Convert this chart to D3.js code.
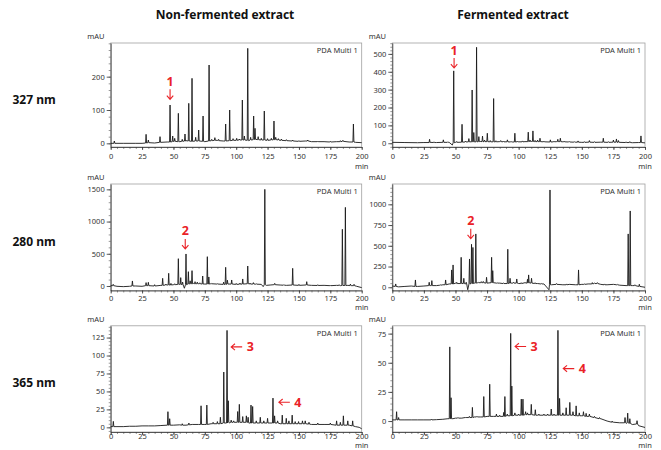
<!DOCTYPE html>
<html><head><meta charset="utf-8">
<script src="https://cdn.jsdelivr.net/npm/d3@7"></script>
<style>body{margin:0;background:#fff} svg text{font-family:"Noto Sans",sans-serif}</style>
</head><body><svg id="c" width="661" height="450"></svg>
<script>
// ---------- DATA ----------
const columnTitles = ["Non-fermented extract", "Fermented extract"];
const rowLabels = ["327 nm", "280 nm", "365 nm"];
const xTicks = [0, 25, 50, 75, 100, 125, 150, 175, 200];
const xDomain = [0, 200];
const detectorLabel = "PDA Multi 1";
const yUnit = "mAU";
const xUnit = "min";

const yTicks327A = [0, 100, 200];
const yTicks327B = [0, 100, 200, 300, 400, 500];
const yTicks280A = [0, 500, 1000, 1500];
const yTicks280B = [0, 250, 500, 750, 1000];
const yTicks365A = [0, 25, 50, 75, 100, 125];
const yTicks365B = [0, 25, 50, 75];

const yDomain327A = [-11, 301];
const yDomain327B = [-21, 561];
const yDomain280A = [-70, 1583];
const yDomain280B = [-39, 1245];
const yDomain365A = [-6.5, 141.4];
const yDomain365B = [-9.4, 81.7];

// baselines: [time, mAU]
const baseline327A = [[0,0],[3,1],[10,0],[20,0],[25,0],[30,2],[35,1],[40,3],[45,4],[50,6],[55,5],[60,8],[65,6],[70,7],[75,5],[80,8],[85,9],[90,7],[95,8],[100,9],[105,10],[110,8],[115,12],[120,10],[125,9],[130,11],[135,9],[140,8],[145,7],[150,6],[155,7],[160,5],[165,6],[170,5],[175,4],[180,5],[185,6],[190,4],[195,3],[200,2]];
// peaks: [time, height, base]
const peaks327A = [[2.9,7,0],[28.2,27,1],[30,10,2],[39.3,20,3],[47.3,115,4],[49.4,22,5],[51,15,6],[53.9,90,5],[57,12,6],[59.2,28,7],[62.2,120,7],[64.8,195,6],[67.7,18,7],[70.1,40,7],[73.6,82,6],[78.4,235,7],[80.5,12,8],[83,17,9],[86,12,8],[91.6,58,7],[94.8,100,8],[97.5,14,9],[100.4,15,9],[102.5,13,10],[104.9,130,10],[106.5,22,10],[109.2,285,9],[111.5,18,10],[113.9,82,11],[115,45,12],[117.5,20,11],[120,15,10],[122.4,97,10],[125,14,9],[128,15,10],[130.1,67,11],[131.5,18,11],[133.6,14,10],[136,13,9],[140,11,8],[145,10,7],[150,8,6],[157,10,7],[165,7,5],[175,6,4],[183,8,5],[185,9,6],[193.4,58,4]];

const baseline327B = [[0,5],[10,4],[20,3],[25,4],[30,5],[35,4],[40,6],[45,5],[47.5,-10],[50,5],[55,7],[60,8],[65,8],[70,10],[75,9],[80,8],[85,9],[90,8],[95,7],[100,8],[105,9],[110,10],[115,9],[120,8],[125,7],[130,9],[135,8],[140,7],[145,6],[150,5],[155,6],[160,5],[165,6],[170,5],[175,6],[180,5],[185,4],[190,3],[195,4],[200,2]];
const peaks327B = [[29.5,22,4],[33,8,4],[40.4,19,5],[44,8,5],[48.6,405,3],[51,10,5],[55.2,106,6],[58,12,7],[60.6,26,8],[63.2,298,8],[64.5,60,8],[66.7,537,8],[68.5,37,9],[71.4,40,9],[73,18,9],[75.2,56,9],[77.5,15,8],[80.2,250,8],[82,14,8],[85.8,15,9],[88,12,8],[91.1,19,8],[94,10,7],[97,56,7],[99,12,8],[103,13,8],[107.6,62,9],[109,18,10],[111.3,69,10],[113,16,9],[115,18,9],[116.9,28,9],[120,12,8],[125.1,19,7],[128,12,8],[131,22,9],[133,28,9],[136,12,8],[140,10,7],[144,9,6],[147,13,6],[152,9,5],[156,15,6],[160,9,5],[167,28,6],[171,9,5],[175,18,6],[177.4,24,6],[179,15,5],[185,8,4],[188,9,4],[196.8,41,4]];

const baseline280A = [[0,5],[5,-5],[10,-10],[15,-5],[20,0],[25,-5],[30,5],[35,0],[40,10],[45,15],[50,20],[55,25],[58.7,-35],[62.6,30],[66,40],[70,35],[75,30],[80,35],[85,30],[90,25],[95,30],[100,25],[105,30],[110,35],[115,30],[120,25],[121.5,-10],[124,10],[127,15],[130,20],[135,15],[140,10],[145,15],[150,10],[155,15],[160,10],[165,8],[170,10],[175,5],[180,10],[183,5],[189,10],[192,5],[196,-5],[200,-25]];
const peaks280A = [[2,26,5],[17.3,78,0],[28.2,52,5],[30,57,5],[35,20,0],[41.4,119,10],[44,30,15],[46.2,197,15],[48,40,15],[51,35,20],[53.9,424,25],[55.8,130,25],[57.3,60,20],[60,497,20],[61.9,222,30],[63.3,80,35],[64.8,238,35],[67.2,67,35],[69,60,35],[71,50,35],[73.3,155,30],[77,455,30],[78.2,140,30],[80,40,35],[85,35,30],[90,60,25],[91.6,290,25],[93,90,30],[96.4,93,30],[100,40,25],[103,45,28],[105.2,109,30],[109.2,310,35],[111,45,30],[113.7,52,30],[116,35,28],[122.8,1500,20],[130.7,41,20],[138,20,12],[145,274,15],[150,25,10],[156.2,67,15],[165,20,8],[175,15,5],[182,20,8],[184.6,880,8],[187,1220,8],[191,30,6],[193.9,26,5]];

const baseline280B = [[0,15],[5,5],[10,10],[15,15],[20,10],[25,15],[30,20],[35,20],[40,30],[45,40],[50,50],[55,45],[59.7,-30],[65,50],[70,55],[75,50],[80,55],[85,50],[90,45],[95,50],[100,45],[105,55],[110,50],[115,45],[120,40],[124,-30],[126,30],[130,35],[135,30],[140,35],[145,30],[150,35],[155,40],[160,45],[165,35],[170,30],[175,35],[180,25],[185,20],[190,20],[195,10],[200,0]];
const peaks280B = [[2.7,40,10],[18.3,88,10],[29.2,60,20],[31.3,80,20],[38,30,25],[42.2,88,30],[47,209,40],[48.1,269,40],[51,60,45],[54.5,361,45],[56.6,108,45],[58.5,60,40],[61.1,341,40],[62.7,518,45],[63.8,480,45],[66.1,643,50],[68,60,55],[70.4,68,55],[72,70,55],[74.6,120,50],[78.6,361,55],[79.5,200,55],[83,55,50],[88,50,45],[91.4,458,45],[93.2,108,50],[96,60,50],[98.5,100,50],[102,55,45],[107,96,50],[107.9,149,55],[110.2,108,50],[113,55,45],[118,45,40],[124.8,1173,30],[130,45,35],[138,40,30],[147.4,209,30],[152,40,35],[158.3,56,40],[160,50,45],[162.3,56,45],[168,40,30],[178,35,30],[186.7,643,20],[188.3,920,20],[192,30,20],[195.5,36,10]];

const baseline365A = [[0,1],[5,1],[10,1],[15,1.5],[20,1.5],[25,2],[30,2],[35,2],[40,2.5],[45,3],[50,3],[55,3.5],[60,3],[65,4],[70,4],[75,4],[80,5],[85,5],[90,6],[95,6],[100,7],[105,7],[110,6],[115,6],[120,6],[125,6],[130,6],[135,5],[140,5],[145,5],[150,5],[155,5],[160,4],[165,4],[170,4],[175,4],[180,3],[185,3],[190,3],[195,1],[198,0],[200,-2]];
const peaks365A = [[2.1,8.3,1],[45.6,21.8,3],[47,12,3],[57,5,3],[62.3,6,3.5],[72,30,4],[76.6,31,4],[81.6,7,5],[85,8,5],[87.4,14,5],[90.1,77,6],[92.7,135,6],[93.7,37,7],[96,10,7],[98,9,7],[101.2,22,7],[102.5,32,7],[105.2,15,7],[108.1,16,7],[109.5,14,7],[111.8,31,6],[113.1,29,6],[116,9,6],[119.2,14,6],[122,9,6],[125,12.5,6],[129.3,40.7,6],[130.6,16,6],[133,9,6],[136.7,17,5],[139.9,12.5,5],[142,9,5],[144.6,17,5],[147,8,5],[149.7,8,5],[152.8,9,5],[155,9,5],[158,7,4.5],[165,6,4],[175,6,4],[180,9,3],[183,7,3],[185.4,16,3],[188.9,9,3],[192.8,9,2]];

const baseline365B = [[0,1],[5,1],[10,1],[15,1],[20,1],[25,1],[30,1],[35,1.2],[40,1.5],[44,2],[48,2],[50,2.5],[55,2.5],[60,3],[65,3.5],[70,3.5],[75,4],[80,4],[85,4],[90,4.5],[95,5],[100,5],[105,5.5],[110,5.5],[115,5],[120,5],[125,5],[130,5],[135,5],[140,5],[145,4.5],[150,4.5],[155,4],[160,3],[165,2],[170,0],[175,-1],[180,-1.5],[185,-2],[190,-3],[195,-4],[200,-5.5]];
const peaks365B = [[3.4,8,1],[5,3,1],[31,1.7,1],[45.5,63.6,2],[46.5,20,2],[52,3,2.5],[58,3,3],[61,4,3],[63.4,11.7,3],[67,4,3.5],[72.4,21,3.5],[77.1,31.6,4],[82.4,6,4],[85,5,4],[88.2,7.4,4],[89.1,21,4],[91,6,4.5],[93.7,75.2,4.5],[94.6,30,4.5],[97,7,5],[100,6,5],[102.1,18.8,5],[103.4,18.8,5],[105.5,8,5.5],[107,7,5.5],[110,14.3,5.5],[113.2,9.7,5],[116,6,5],[120,6,5],[123,6,5],[125.8,10.3,5],[128,6,5],[131.1,77.8,5],[132.4,19.4,5],[135,7,5],[137.6,11.4,5],[140.5,16,5],[143,8,5],[145.5,13,4.5],[148,7,4.5],[151.3,8,4.5],[153.4,6.6,4],[156,6,4],[160,4,3],[164,3,2],[174,0,-1],[184.2,3,-1.5],[186.3,6.8,-1.5],[188,2,-2],[193.7,0.3,-2.5]];

// annotations: [panelIndex, label, time, mAU (arrow tip), direction]
const annotations = [
  [0, "1", 47.3, 132, "down"],
  [1, "1", 48.9, 421, "down"],
  [2, "2", 59.4, 575, "down"],
  [3, "2", 62.1, 585, "down"],
  [4, "3", 96.0, 112, "left"],
  [4, "4", 134.0, 35, "left"],
  [5, "3", 97.2, 64, "left"],
  [5, "4", 135.3, 45, "left"]
];

// ---------- LAYOUT ----------
const colX = [[110.7, 361.7], [392.3, 645]];
const rowY = [[43, 147], [184, 290.5], [325.8, 432]];
const xLabelBase = [159, 300.5, 438.6];
const minBase = [168.5, 309.5, 447.6];

const panels = [
  {r:0, c:0, base:baseline327A, peaks:peaks327A, dom:yDomain327A, ticks:yTicks327A},
  {r:0, c:1, base:baseline327B, peaks:peaks327B, dom:yDomain327B, ticks:yTicks327B},
  {r:1, c:0, base:baseline280A, peaks:peaks280A, dom:yDomain280A, ticks:yTicks280A},
  {r:1, c:1, base:baseline280B, peaks:peaks280B, dom:yDomain280B, ticks:yTicks280B},
  {r:2, c:0, base:baseline365A, peaks:peaks365A, dom:yDomain365A, ticks:yTicks365A},
  {r:2, c:1, base:baseline365B, peaks:peaks365B, dom:yDomain365B, ticks:yTicks365B}
];

const svg = d3.select("#c");
const RED = "#ea2227";
const HW = 0.4; // drawn half-width of a peak (min)
const fmt = d3.format("d");

svg.selectAll("text.title").data(columnTitles).enter().append("text")
  .attr("x", (d,i) => [225, 513][i]).attr("y", 19)
  .attr("text-anchor", "middle").attr("font-size", 12).attr("font-weight", 700)
  .attr("fill", "#111").text(d => d);

svg.selectAll("text.row").data(rowLabels).enter().append("text")
  .attr("x", 12.5).attr("y", (d,i) => (rowY[i][0] + rowY[i][1]) / 2 + 8.5)
  .attr("font-size", 12).attr("font-weight", 700).attr("fill", "#111").text(d => d);

panels.forEach((p, pi) => {
  const [x0, x1] = colX[p.c];
  const [yTop, yBot] = rowY[p.r];
  const x = d3.scaleLinear().domain(xDomain).range([x0, x1]);
  const y = d3.scaleLinear().domain(p.dom).range([yBot, yTop]);
  const g = svg.append("g");
  p.x = x; p.y = y;

  g.append("rect").attr("x", x0).attr("y", yTop).attr("width", x1 - x0).attr("height", yBot - yTop)
    .attr("fill", "none").attr("stroke", "#a0a0a0").attr("stroke-width", 0.8);

  // minor ticks
  const yStep = p.ticks[1] - p.ticks[0];
  const yMinor = d3.range(Math.ceil(p.dom[0] / (yStep/5)) * (yStep/5), p.dom[1], yStep/5);
  const ax = g.append("g").attr("transform", `translate(${x0},0)`)
    .call(d3.axisLeft(y).tickValues(yMinor).tickSize(2).tickFormat(""));
  ax.select(".domain").remove();
  ax.selectAll("line").attr("stroke", "#555").attr("stroke-width", 0.6);
  const bx = g.append("g").attr("transform", `translate(0,${yBot})`)
    .call(d3.axisBottom(x).tickValues(d3.range(0, 201, 5)).tickSize(2).tickFormat(""));
  bx.select(".domain").remove();
  bx.selectAll("line").attr("stroke", "#555").attr("stroke-width", 0.6);

  const ya = g.append("g").attr("transform", `translate(${x0},0)`)
    .call(d3.axisLeft(y).tickValues(p.ticks).tickFormat(fmt).tickSize(4).tickPadding(2).tickSizeOuter(0));
  ya.select(".domain").attr("stroke", "#333").attr("stroke-width", 0.8);
  ya.selectAll("line").attr("stroke", "#333").attr("stroke-width", 0.8);
  ya.selectAll("text").attr("font-size", 7.5).attr("fill", "#333").attr("font-family", "Noto Sans");

  const xa = g.append("g").attr("transform", `translate(0,${yBot})`)
    .call(d3.axisBottom(x).tickValues(xTicks).tickFormat(fmt).tickSize(3).tickSizeOuter(0));
  xa.select(".domain").attr("stroke", "#333").attr("stroke-width", 0.8);
  xa.selectAll("line").attr("stroke", "#333").attr("stroke-width", 0.8);
  xa.selectAll("text").attr("font-size", 7.5).attr("fill", "#333").attr("font-family", "Noto Sans")
    .attr("y", xLabelBase[p.r] - yBot).attr("dy", null);

  g.append("text").attr("x", x1).attr("y", minBase[p.r]).attr("text-anchor", "middle")
    .attr("font-size", 7.5).attr("fill", "#333").text(xUnit);
  g.append("text").attr("x", x0 - 23.5).attr("y", yTop - 4.3)
    .attr("font-size", 7.5).attr("fill", "#333").text(yUnit);
  g.append("text").attr("x", x1 - 4).attr("y", yTop + 10).attr("text-anchor", "end")
    .attr("font-size", 7.5).attr("fill", "#333").text(detectorLabel);

  // trace
  const pts = p.base.filter(b => !p.peaks.some(k => Math.abs(k[0] - b[0]) < HW + 0.05));
  p.peaks.forEach(k => { pts.push([k[0] - HW, k[2]], [k[0], k[1]], [k[0] + HW, k[2]]); });
  pts.sort((a, b) => a[0] - b[0]);
  const line = d3.line().x(d => x(d[0])).y(d => y(d[1]));
  g.append("path").datum(pts).attr("d", line).attr("fill", "none")
    .attr("stroke", "#1a1a1a").attr("stroke-width", 0.9).attr("stroke-linejoin", "round");
});

// annotations
annotations.forEach(([pi, label, t, v, dir]) => {
  const p = panels[pi];
  const ax = p.x(t), ay = p.y(v);
  const g = svg.append("g").attr("stroke", RED).attr("fill", "none").attr("stroke-width", 1.1);
  if (dir === "down") {
    g.append("path").attr("d", `M${ax},${ay - 10}L${ax},${ay}M${ax - 3.2},${ay - 3.8}L${ax},${ay}L${ax + 3.2},${ay - 3.8}`);
    svg.append("text").attr("x", ax).attr("y", ay - 13.5).attr("text-anchor", "middle")
      .attr("font-size", 12.5).attr("font-weight", 700).attr("fill", RED).text(label);
  } else {
    g.append("path").attr("d", `M${ax + 11},${ay}L${ax},${ay}M${ax + 3.8},${ay - 3.2}L${ax},${ay}L${ax + 3.8},${ay + 3.2}`);
    svg.append("text").attr("x", ax + 15.5).attr("y", ay + 4.5)
      .attr("font-size", 12.5).attr("font-weight", 700).attr("fill", RED).text(label);
  }
});
</script></body></html>
